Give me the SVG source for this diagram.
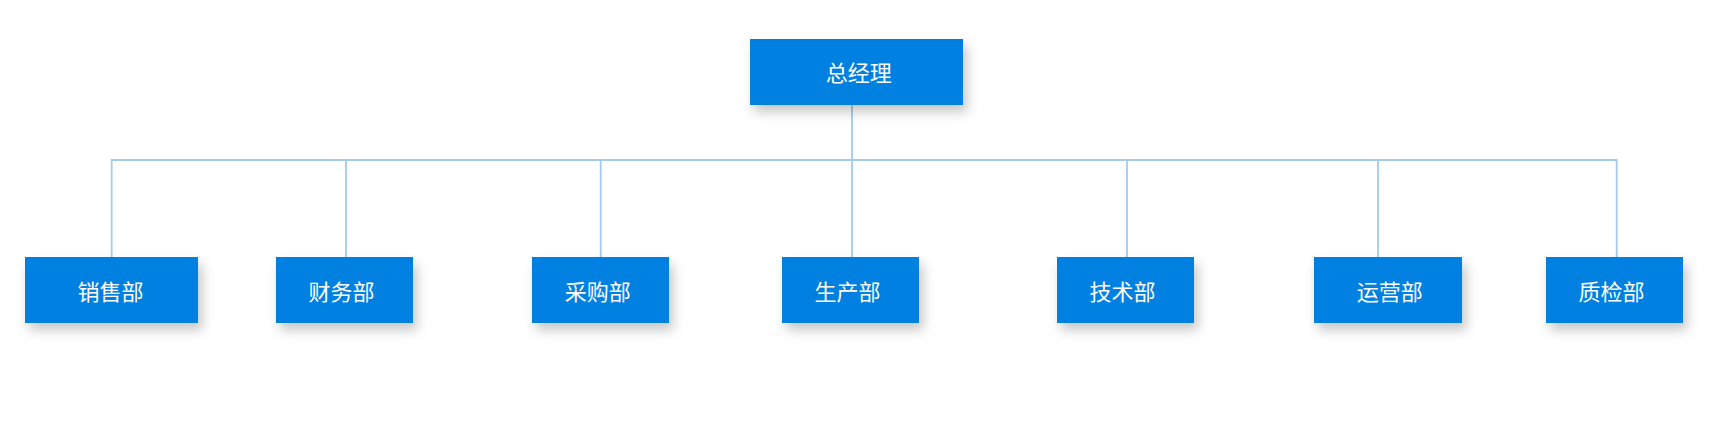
<svg xmlns="http://www.w3.org/2000/svg" width="1714" height="421" viewBox="0 0 1714 421">
<defs>
<filter id="sh" x="-20%" y="-30%" width="150%" height="180%">
<feDropShadow dx="4" dy="7" stdDeviation="6" flood-color="#000" flood-opacity="0.22"/>
</filter>
<style>
.box{fill:#0080e1;filter:url(#sh)}
.lbl{fill:#fff;font-family:"Noto Sans CJK SC","Noto Sans",sans-serif;font-size:22px;text-anchor:middle}
.ln{stroke:#a5cbe8;stroke-width:1.8;fill:none}
</style>
</defs>
<rect width="1714" height="421" fill="#fff"/>
<g id="connectors">
<path class="ln" d="M852 105V160M111.7 257V160H1616.7V257M346 160V257M600.7 160V257M852 160V257M1127 160V257M1378 160V257"/>
</g>
<g id="n0"><rect class="box" x="750" y="39" width="213" height="66"/><text class="lbl" x="858.8" y="81">总经理</text></g>
<g id="n1"><rect class="box" x="25" y="257" width="173" height="66"/><text class="lbl" x="110.5" y="300">销售部</text></g>
<g id="n2"><rect class="box" x="276" y="257" width="137" height="66"/><text class="lbl" x="341.5" y="300">财务部</text></g>
<g id="n3"><rect class="box" x="532" y="257" width="137" height="66"/><text class="lbl" x="597.7" y="300">采购部</text></g>
<g id="n4"><rect class="box" x="782" y="257" width="137" height="66"/><text class="lbl" x="847.5" y="300">生产部</text></g>
<g id="n5"><rect class="box" x="1057" y="257" width="137" height="66"/><text class="lbl" x="1122.5" y="300">技术部</text></g>
<g id="n6"><rect class="box" x="1314" y="257" width="148" height="66"/><text class="lbl" x="1389.7" y="300">运营部</text></g>
<g id="n7"><rect class="box" x="1546" y="257" width="137" height="66"/><text class="lbl" x="1611.5" y="300">质检部</text></g>
</svg>
